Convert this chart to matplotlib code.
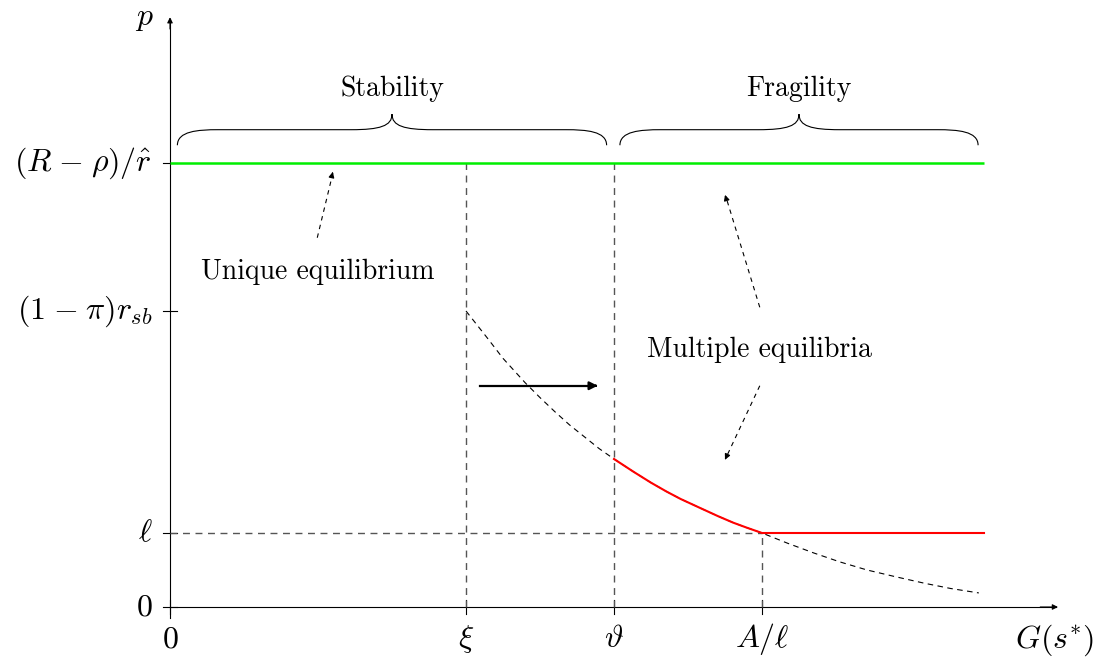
import matplotlib
matplotlib.use('Agg')
import matplotlib.pyplot as plt
from matplotlib.path import Path
from matplotlib.patches import PathPatch

plt.rcParams['mathtext.fontset'] = 'cm'

# tick positions / labels
x_ticks = [0, 4, 6, 8]
x_labels = ['$0$', r'$\xi$', r'$\vartheta$', r'$A/\ell$']
y_ticks = [0, 1, 4, 6]
y_labels = ['$0$', r'$\ell$', r'$(1\;{-}\;\pi)r_{sb}$', r'$(R\;{-}\;\rho)/\hat{r}$']

# dashed curve
curve_x = [4.0, 4.3, 4.5, 4.8, 5.0, 5.2, 5.4, 5.65, 5.8, 6.0, 6.26, 6.5, 6.71, 6.9,
           7.16, 7.4, 7.61, 7.8, 8.0, 8.35, 8.7, 9.05, 9.42, 9.8, 10.2, 10.55, 10.93]
curve_y = [4.0, 3.62, 3.36, 3.03, 2.83, 2.64, 2.46, 2.26, 2.14, 2.0, 1.83, 1.68, 1.56, 1.46,
           1.34, 1.23, 1.14, 1.07, 1.0, 0.86, 0.73, 0.61, 0.5, 0.41, 0.32, 0.25, 0.19]

# red branch (curve between theta and A/l, then flat at l)
red_x = [6.0, 6.26, 6.5, 6.71, 6.9, 7.16, 7.4, 7.61, 7.8, 8.0, 11.0]
red_y = [2.0, 1.83, 1.68, 1.56, 1.46, 1.34, 1.23, 1.14, 1.07, 1.0, 1.0]

green_x = [0, 11.0]
green_y = [6, 6]

fig = plt.figure(figsize=(11.02, 6.66), dpi=100)
ax = fig.add_axes([0, 0, 1, 1])
ax.set_xlim(-170 / 74, (1102 - 170) / 74)
ax.set_ylim(-59 / 74, 607 / 74)
ax.axis('off')

def arrow_head(ax, p0, p1, lw=0.9, scale=9):
    ax.annotate('', xy=p1, xytext=(p1[0] - (p1[0] - p0[0]) * 0.02, p1[1] - (p1[1] - p0[1]) * 0.02),
                arrowprops=dict(arrowstyle='-|>', lw=lw, color='k', shrinkA=0, shrinkB=0,
                                mutation_scale=scale))

# axes
ax.plot([0, 11.97], [0, 0], color='k', lw=0.8)
arrow_head(ax, (0, 0), (12.0, 0), lw=0.8, scale=8)
ax.plot([0, 0], [-0.15, 7.94], color='k', lw=0.8)
arrow_head(ax, (0, 0), (0, 7.97), lw=0.8, scale=8)
ax.text(-0.34, 7.97, '$p$', fontsize=23, ha='center', va='center')
ax.text(11.95, -0.45, '$G(s^{*})$', fontsize=23, ha='center', va='center')

for xt, lab in zip(x_ticks, x_labels):
    ax.plot([xt, xt], [-0.1, 0.1], color='k', lw=0.8)
    ax.text(xt, -0.43, lab, fontsize=23, ha='center', va='center')
for yt, lab in zip(y_ticks, y_labels):
    ax.plot([-0.1, 0.1], [yt, yt], color='k', lw=0.8)
    ax.text(-0.24, yt, lab, fontsize=23, ha='right', va='center')

# guide lines
ax.plot([4, 4], [0, 6], color='#555555', lw=1.0, ls=(0, (5, 4)))
ax.plot([6, 6], [0, 6], color='#555555', lw=1.0, ls=(0, (5, 4)))
ax.plot([8, 8], [0, 1], color='#555555', lw=1.0, ls=(0, (5, 4)))
ax.plot([0, 8], [1, 1], color='#555555', lw=1.0, ls=(0, (5, 4)))

ax.plot(curve_x, curve_y, color='k', lw=0.8, ls=(0, (5, 4)))
ax.plot(green_x, green_y, color='#00ee00', lw=1.8, solid_capstyle='butt')
ax.plot(red_x, red_y, color='#ff0000', lw=1.5)

# braces
def brace(ax, x0, x1, yb, yf, yt):
    xm = (x0 + x1) / 2
    r = 0.55
    verts = [(x0, yb), (x0, yf - 0.02), (x0 + r * 0.5, yf), (x0 + r, yf),
             (xm - r, yf),
             (xm - r * 0.3, yf), (xm, yf + 0.05), (xm, yt),
             (xm, yf + 0.05), (xm + r * 0.3, yf), (xm + r, yf),
             (x1 - r, yf),
             (x1 - r * 0.5, yf), (x1, yf - 0.02), (x1, yb)]
    codes = [Path.MOVETO, Path.CURVE4, Path.CURVE4, Path.CURVE4,
             Path.LINETO,
             Path.CURVE4, Path.CURVE4, Path.CURVE4,
             Path.CURVE4, Path.CURVE4, Path.CURVE4,
             Path.LINETO,
             Path.CURVE4, Path.CURVE4, Path.CURVE4]
    ax.add_patch(PathPatch(Path(verts, codes), fill=False, lw=0.8, color='k'))

brace(ax, 0.1, 5.9, 6.24, 6.45, 6.66)
brace(ax, 6.08, 10.92, 6.24, 6.45, 6.66)
ax.text(3.0, 7.0, 'Stability', family='cmr10', fontsize=20, ha='center', va='center')
ax.text(8.5, 7.0, 'Fragility', family='cmr10', fontsize=20, ha='center', va='center')

# annotations
ax.text(2.0, 4.53, 'Unique equilibrium', family='cmr10', fontsize=20, ha='center', va='center')
ax.plot([1.99, 2.2], [4.99, 5.86], color='k', lw=0.8, ls=(0, (4, 4)))
arrow_head(ax, (1.99, 4.99), (2.2, 5.88), scale=8)

ax.text(7.97, 3.47, 'Multiple equilibria', family='cmr10', fontsize=20, ha='center', va='center')
ax.plot([7.97, 7.51], [4.05, 5.55], color='k', lw=0.8, ls=(0, (4, 4)))
arrow_head(ax, (7.97, 4.05), (7.5, 5.57), scale=8)
ax.plot([7.97, 7.51], [2.99, 2.01], color='k', lw=0.8, ls=(0, (4, 4)))
arrow_head(ax, (7.97, 2.99), (7.5, 1.99), scale=8)

ax.plot([4.19, 5.7], [2.99, 2.99], color='k', lw=1.6)
arrow_head(ax, (4.19, 2.99), (5.78, 2.99), lw=1.6, scale=12)

fig.savefig('out.png', dpi=100)
